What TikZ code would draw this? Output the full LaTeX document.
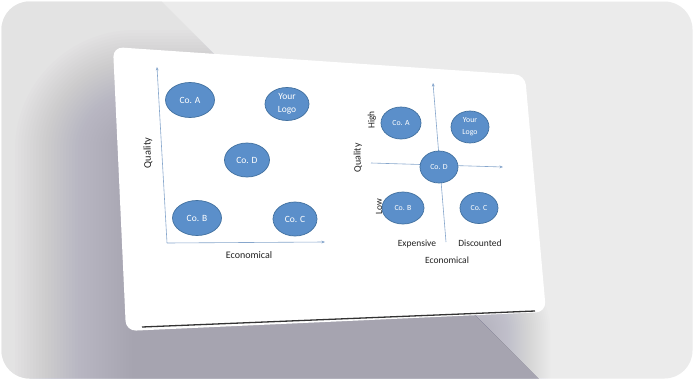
\documentclass[tikz,border=0pt]{standalone}
\usepackage{fontspec}
\setmainfont{Carlito}
\usetikzlibrary{shapes.geometric,arrows.meta}
\definecolor{bgc}{HTML}{EBEBEB}
\definecolor{bgl}{HTML}{E3E3E3}
\definecolor{shc}{HTML}{8F8CA3}
\definecolor{cofill}{HTML}{5B8FCA}
\definecolor{coedge}{HTML}{41709F}
\definecolor{axc}{HTML}{86A6CC}
\definecolor{txc}{HTML}{222222}
\begin{document}
\begin{tikzpicture}[x=1pt,y=-1pt,
  co/.style={ellipse, draw=coedge, line width=0.7pt, fill=cofill, text=white, inner sep=0pt, align=center},
  coL/.style={co, font=\fontsize{9.5}{13}\selectfont},
  coR/.style={co, font=\fontsize{7.8}{12}\selectfont},
  axisline/.style={draw=axc, line width=0.6pt},
  axarr/.style={axisline, -{Stealth[length=3.5pt,width=2.8pt]}},
  lab/.style={text=txc, inner sep=0pt},
]
\useasboundingbox (0,0) rectangle (694,380);
\fill[white] (0,0) rectangle (694,380);
\begin{scope}
  \clip[rounded corners=28pt] (1.5,1.5) rectangle (692.5,378.5);
  \fill[bgc] (0,0) rectangle (694,380);
  % long shadow region left of the diagonal
  \begin{scope}
    \clip (-10,-10) -- (150,-10) -- (560,400) -- (-10,400) -- cycle;
    \fill[bgl] (-10,-10) rectangle (700,400);
    \foreach \k in {1,...,40}{
      \pgfmathsetmacro\rr{\k*3}
      \fill[shc, fill opacity=0.023, rounded corners=\rr pt] ({135-\k*3},{150-\k*3}) rectangle ({530+\k*3},{420+\k*3});
    }
  \end{scope}
  % softer shadow right of the diagonal
  \begin{scope}
    \clip (150,-10) -- (710,-10) -- (710,400) -- (560,400) -- cycle;
    \foreach \k in {1,...,35}{
      \pgfmathsetmacro\rr{\k*2}
      \fill[shc, fill opacity=0.02, rounded corners=\rr pt] ({135-\k*2},{330-\k*2}) rectangle ({480+\k*2},{420+\k*2});
    }
  \end{scope}
\end{scope}
% card
\fill[white, rounded corners=10pt] (113,47) -- (525,75) -- (546,312) -- (126,331) -- cycle;
\draw[line width=1.3pt, black!80] (142,327) -- (535,311);

% ---- left chart ----
\coordinate (lO) at (167,243);
\coordinate (lYt) at (157,67);
\coordinate (lXt) at (325,242);
\draw[axarr] (lO) -- (lYt);
\draw[axarr] (lO) -- (lXt);
\node[coL, minimum width=49pt, minimum height=35pt] (lA) at (190,100) {Co. A};
\node[coL, minimum width=44pt, minimum height=33pt] (lLogo) at (287,104) {Your\\Logo};
\node[coL, minimum width=45pt, minimum height=34pt] (lD) at (247,160) {Co. D};
\node[coL, minimum width=49pt, minimum height=35pt] (lB) at (197,218) {Co. B};
\node[coL, minimum width=44pt, minimum height=34pt] (lC) at (295,219) {Co. C};
\node[lab, rotate=91, font=\fontsize{10.5}{12}\selectfont] (lQ) at (148,153) {Quality};
\node[lab, font=\fontsize{10}{12}\selectfont] (lE) at (249,255) {Economical};

% ---- right chart ----
\coordinate (rVt) at (433,83);
\coordinate (rVb) at (446,242);
\coordinate (rHl) at (371,163);
\coordinate (rHr) at (503,167);
\draw[axarr] (rVb) -- (rVt);
\draw[axarr] (rHl) -- (rHr);
\node[coR, minimum width=40pt, minimum height=32pt] (rA) at (401,123) {Co. A};
\node[coR, minimum width=38pt, minimum height=32pt] (rLogo) at (470,127) {Your\\Logo};
\node[coR, minimum width=38pt, minimum height=32pt] (rD) at (439,167) {Co. D};
\node[coR, minimum width=42pt, minimum height=32pt] (rB) at (403,208) {Co. B};
\node[coR, minimum width=38pt, minimum height=31pt] (rC) at (479,208) {Co. C};
\node[lab, rotate=91, font=\fontsize{9.5}{11}\selectfont] (rHigh) at (372,120) {High};
\node[lab, rotate=91, font=\fontsize{10}{11}\selectfont] (rQ) at (358,158) {Quality};
\node[lab, rotate=91, font=\fontsize{9.5}{11}\selectfont] (rLow) at (379,207) {Low};
\node[lab, font=\fontsize{9.5}{11}\selectfont] (rExp) at (417,244) {Expensive};
\node[lab, font=\fontsize{9.5}{11}\selectfont] (rDis) at (480,243) {Discounted};
\node[lab, font=\fontsize{9.5}{11}\selectfont] (rE) at (447,260) {Economical};
\end{tikzpicture}
\end{document}
